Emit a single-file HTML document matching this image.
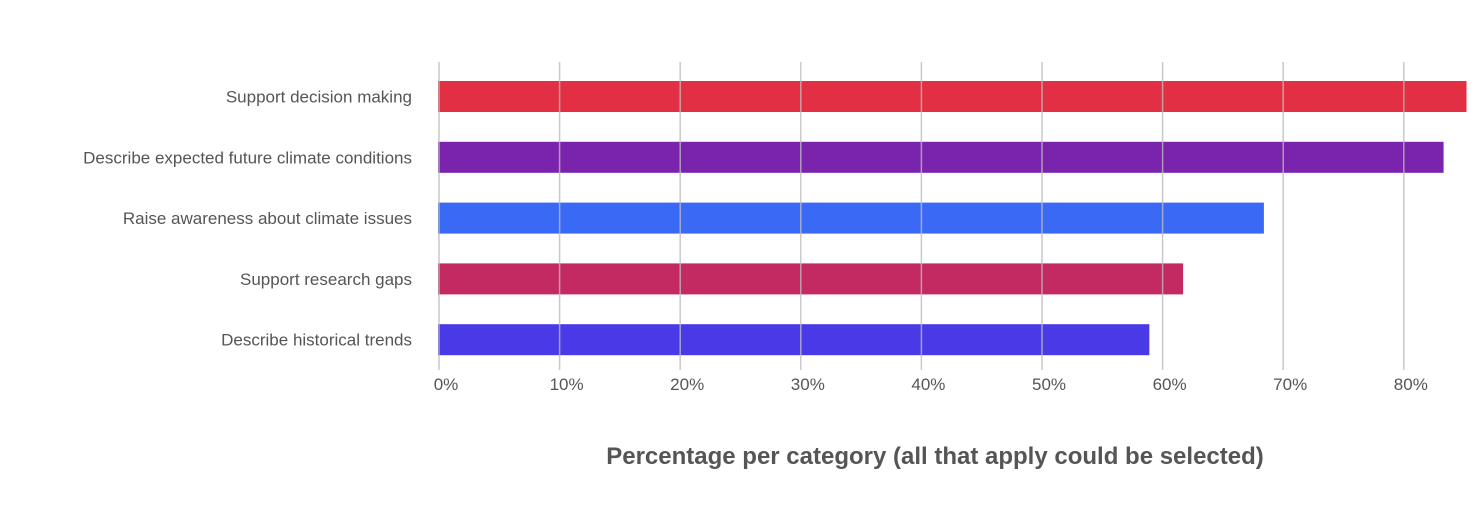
<!DOCTYPE html>
<html><head><meta charset="utf-8"><style>
html,body{margin:0;padding:0;background:#fff;}
svg{display:block;font-family:"Liberation Sans",sans-serif;}
</style></head><body>
<svg width="1483" height="513" viewBox="0 0 1483 513">
<g id="bars"></g>
<g id="grid"></g>
<g id="ylabels"></g>
<g id="xlabels"></g>
<text x="935" y="464" text-anchor="middle" font-size="24" font-weight="bold" fill="#555">Percentage per category (all that apply could be selected)</text>
</svg>
<script>
const categories = ["Support decision making","Describe expected future climate conditions","Raise awareness about climate issues","Support research gaps","Describe historical trends"];
const values = [85.2, 83.3, 68.4, 61.7, 58.9];
const colors = ["#e32f43","#7a23ad","#3a69f5","#c32a62","#4939e6"];
const ticks = [0,10,20,30,40,50,60,70,80];
const tickLabels = ["0%","10%","20%","30%","40%","50%","60%","70%","80%"];
const NS="http://www.w3.org/2000/svg";
const x0=439, pxPer=12.06;
const xs=v=>x0+v*pxPer;
const ys=i=>81+i*60.8;
const bh=31;
function mk(t,a,p){const e=document.createElementNS(NS,t);for(const k in a)e.setAttribute(k,a[k]);p.appendChild(e);return e;}
const gb=document.getElementById('bars'),gg=document.getElementById('grid'),gy=document.getElementById('ylabels'),gx=document.getElementById('xlabels');
categories.forEach((c,i)=>{
  const r=mk('rect',{x:x0-1,y:ys(i),width:xs(values[i])-x0+1,height:bh,fill:colors[i]},gb);
  
  
  const t=mk('text',{x:412,y:ys(i)+bh/2+6,'text-anchor':'end','font-size':'17',fill:'#555'},gy);
  t.textContent=c;
  
  
});
ticks.forEach((v,i)=>{
  const l=mk('line',{x1:xs(v),x2:xs(v),y1:62,y2:370,stroke:'#bbb','stroke-width':1.5,'stroke-opacity':0.8},gg);
  
  
  const t=mk('text',{x:xs(v)+7,y:390,'text-anchor':'middle','font-size':'17',fill:'#555'},gx);
  t.textContent=tickLabels[i];
  
  
});
</script>
</body></html>
